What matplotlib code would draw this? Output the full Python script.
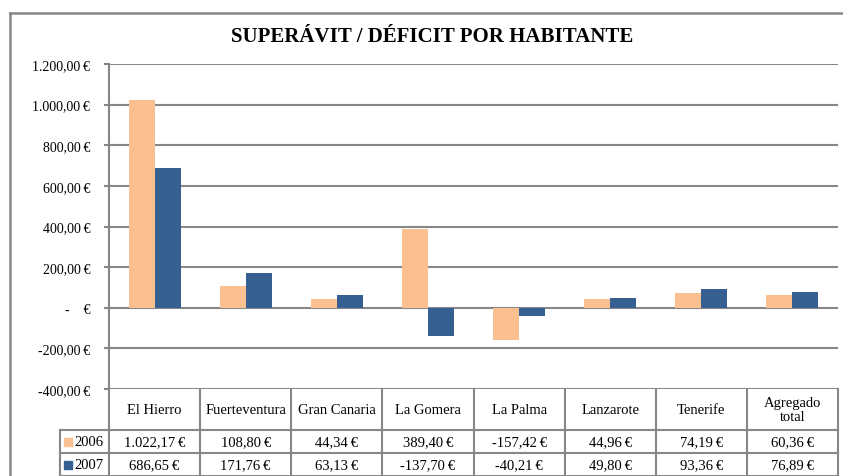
import matplotlib.pyplot as plt
import matplotlib.transforms as mtransforms
from matplotlib.patches import Rectangle
import numpy as np

plt.rcParams['font.family'] = ['Liberation Serif', 'DejaVu Serif']

categories = ["El Hierro", "Fuerteventura", "Gran Canaria", "La Gomera",
              "La Palma", "Lanzarote", "Tenerife", "Agregado\ntotal"]
series = ["2006", "2007"]
v2006 = [1022.17, 108.80, 44.34, 389.40, -157.42, 44.96, 74.19, 60.36]
v2007 = [686.65, 171.76, 63.13, -137.70, -40.21, 49.80, 93.36, 76.89]
yticks = [-400, -200, 0, 200, 400, 600, 800, 1000, 1200]

c2006 = "#FAC090"
c2007 = "#376092"
grid_c = "#878787"


def eur(v):
    # spanish style: 1.022,17 €
    if v == 0:
        return "-    €"
    s = f"{abs(v):,.2f}".replace(",", "X").replace(".", ",").replace("X", ".")
    return ("-" if v < 0 else "") + s + "\u2009€"


W, H = 843, 477
fig = plt.figure(figsize=(W / 100, H / 100), dpi=100)

# full-figure overlay in pixel coordinates (y down)
ov = fig.add_axes([0, 0, 1, 1])
ov.set_xlim(0, W)
ov.set_ylim(H, 0)
ov.axis("off")

left, right, top, bottom = 109, 838, 65, 390
ax = fig.add_axes([left / W, (H - bottom) / H, (right - left) / W, (bottom - top) / H])
ax.set_zorder(2)
ax.patch.set_alpha(0)

x = np.arange(len(categories))
bw = 1 / 3.5
ax.bar(x - bw / 2, v2006, bw, color=c2006, zorder=3)
ax.bar(x + bw / 2, v2007, bw, color=c2007, zorder=3)

ax.set_xlim(-0.5, len(categories) - 0.5)
ax.set_ylim(-400, 1200)
ax.set_yticks(yticks)
ax.set_yticklabels([eur(v) for v in yticks], fontsize=10)
ax.set_xticks([])
ax.yaxis.grid(True, color=grid_c, linewidth=1.5)
ax.set_axisbelow(True)
ax.tick_params(axis="y", length=3.5, width=1.5, color=grid_c, pad=10)
for s in ["top", "right", "bottom"]:
    ax.spines[s].set_visible(False)
ax.spines["left"].set_color(grid_c)
ax.spines["left"].set_linewidth(1.5)

# title and outer frame
ov.text(432, 37, "SUPERÁVIT / DÉFICIT POR HABITANTE", ha="center", va="center",
        fontsize=15, fontweight="bold")
ov.plot([10, 10], [14, H], color=grid_c, lw=1.8, clip_on=False)
ov.plot([10, W], [14, 14], color=grid_c, lw=1.8, clip_on=False)

# data table below the axis
tr = mtransforms.blended_transform_factory(ax.transData, ov.transData)
row_y = [390, 431, 454, 477]
for i in range(len(categories) + 1):
    ov.plot([i - 0.5, i - 0.5], [row_y[0], H], color=grid_c, lw=1.5, transform=tr, clip_on=False)
ov.plot([60, 60], [row_y[1], H], color=grid_c, lw=1.5, clip_on=False)
for yy in row_y[1:]:
    ov.plot([60, right], [yy, yy], color=grid_c, lw=1.5, clip_on=False)

for i, cat in enumerate(categories):
    ov.text(i, (row_y[0] + row_y[1]) / 2, cat, ha="center", va="center",
            fontsize=10.5, transform=tr, linespacing=1.15)
    ov.text(i, (row_y[1] + row_y[2]) / 2, eur(v2006[i]), ha="center", va="center",
            fontsize=10.5, transform=tr)
    ov.text(i, (row_y[2] + row_y[3]) / 2, eur(v2007[i]), ha="center", va="center",
            fontsize=10.5, transform=tr)

for k, (name, col) in enumerate(zip(series, [c2006, c2007])):
    yc = (row_y[k + 1] + row_y[k + 2]) / 2
    ov.add_patch(Rectangle((64, yc - 4), 8, 8, color=col, clip_on=False))
    ov.text(74, yc, name, ha="left", va="center", fontsize=10.5)

fig.savefig("out.png", dpi=100, facecolor="white")
